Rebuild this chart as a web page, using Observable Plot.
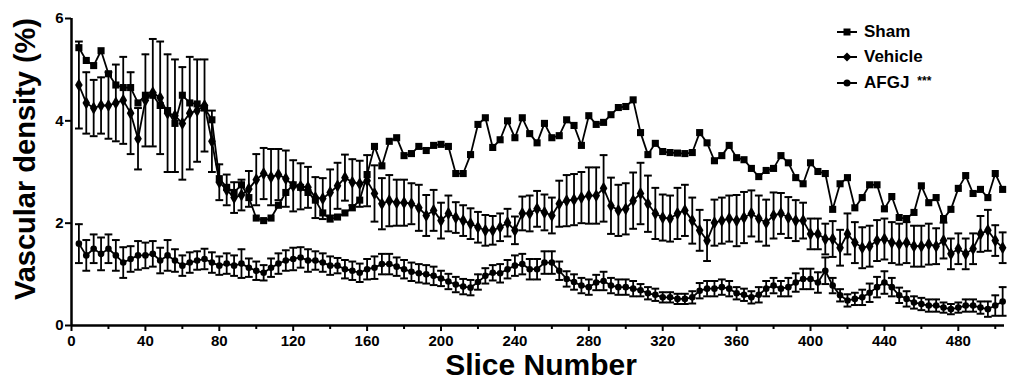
<!DOCTYPE html>
<html>
<head>
<meta charset="utf-8">
<script src="https://cdn.jsdelivr.net/npm/d3@7"></script>
<script src="https://cdn.jsdelivr.net/npm/@observablehq/plot@0.6"></script>
<style>
  body { margin: 0; background: #fff; }
  #wrap { position: relative; width: 1010px; height: 386px; font-family: "Liberation Sans", Arial, sans-serif; }
  #legend { position: absolute; left: 837px; top: 19px; font-weight: bold; font-size: 17px; color: #000; }
  .item { display: flex; align-items: center; height: 25.5px; white-space: nowrap; }
  .item svg { margin-right: 7px; }
  .stars { font-size: 12px; margin-left: 8px; position: relative; top: -2px; }
</style>
</head>
<body>
<div id="wrap"><div id="legend"></div></div>
<script>
// ---- data (slices 4..504, every 4th slice) ----
const sliceStart = 4, sliceStep = 4;
const seriesNames = ["Sham", "Vehicle", "AFGJ"];
const seriesNotes = ["", "", "***"];
const shamValues = [
  5.43, 5.18, 5.08, 5.37, 4.92, 4.70, 4.65, 4.65, 4.35, 4.50,
  4.50, 4.30, 4.20, 3.95, 4.50, 4.35, 4.33, 4.25, 4.02, 2.87,
  2.70, 2.60, 2.75, 2.50, 2.10, 2.05, 2.10, 2.35, 2.60, 2.75,
  2.70, 2.60, 2.45, 2.20, 2.08, 2.12, 2.20, 2.30, 2.45, 2.95,
  3.50, 3.12, 3.60, 3.67, 3.32, 3.36, 3.50, 3.42, 3.52, 3.54,
  3.50, 2.97, 2.97, 3.34, 3.93, 4.06, 3.48, 3.63, 4.00, 3.67,
  4.06, 3.75, 3.57, 3.95, 3.67, 3.71, 4.02, 3.91, 3.52, 4.10,
  3.93, 3.97, 4.12, 4.26, 4.28, 4.41, 3.77, 3.34, 3.56, 3.40,
  3.38, 3.37, 3.36, 3.38, 3.77, 3.57, 3.22, 3.32, 3.52, 3.28,
  3.24, 3.07, 2.91, 3.03, 3.07, 3.32, 3.18, 2.89, 2.77, 3.18,
  3.01, 2.97, 2.27, 2.77, 2.89, 2.30, 2.50, 2.75, 2.75, 2.28,
  2.52, 2.11, 2.09, 2.21, 2.73, 2.40, 2.50, 2.09, 2.27, 2.68,
  2.93, 2.58, 2.66, 2.50, 2.97, 2.66
];
const vehicleValues = [
  4.70, 4.35, 4.25, 4.30, 4.30, 4.35, 4.40, 4.15, 3.65, 4.40,
  4.55, 4.45, 4.15, 4.10, 3.95, 4.15, 4.20, 4.30, 3.60, 2.80,
  2.65, 2.50, 2.55, 2.67, 2.85, 2.97, 2.90, 2.95, 2.87, 2.73,
  2.72, 2.70, 2.50, 2.48, 2.60, 2.73, 2.89, 2.80, 2.77, 2.83,
  2.58, 2.38, 2.44, 2.40, 2.40, 2.38, 2.30, 2.15, 2.25, 2.05,
  2.19, 2.11, 2.05, 1.99, 1.92, 1.86, 1.86, 1.92, 2.01, 1.86,
  2.19, 2.19, 2.28, 2.21, 2.15, 2.38, 2.44, 2.46, 2.50, 2.54,
  2.54, 2.68, 2.34, 2.25, 2.28, 2.44, 2.58, 2.38, 2.19, 2.11,
  2.09, 2.19, 2.25, 2.05, 1.86, 1.66, 2.01, 2.05, 2.09, 2.05,
  2.11, 2.19, 2.09, 2.01, 2.15, 2.19, 2.11, 2.05, 2.05, 1.79,
  1.79, 1.69, 1.69, 1.52, 1.79, 1.62, 1.52, 1.55, 1.66, 1.69,
  1.62, 1.59, 1.62, 1.55, 1.55, 1.59, 1.55, 1.66, 1.40, 1.50,
  1.40, 1.50, 1.79, 1.86, 1.66, 1.52
];
const vehicleErrors = [
  0.85, 0.60, 0.55, 0.55, 0.65, 0.75, 0.85, 0.80, 0.60, 0.90,
  1.05, 1.10, 1.15, 1.10, 1.10, 1.10, 1.00, 0.90, 0.60, 0.35,
  0.30, 0.30, 0.30, 0.35, 0.50, 0.50, 0.55, 0.50, 0.55, 0.50,
  0.45, 0.40, 0.40, 0.40, 0.45, 0.45, 0.45, 0.45, 0.45, 0.50,
  0.55, 0.50, 0.50, 0.45, 0.45, 0.40, 0.45, 0.40, 0.40, 0.35,
  0.35, 0.30, 0.30, 0.30, 0.30, 0.30, 0.28, 0.27, 0.27, 0.27,
  0.33, 0.35, 0.35, 0.35, 0.35, 0.45, 0.50, 0.50, 0.50, 0.55,
  0.55, 0.65, 0.55, 0.50, 0.50, 0.55, 0.60, 0.55, 0.50, 0.45,
  0.45, 0.50, 0.50, 0.45, 0.40, 0.40, 0.45, 0.45, 0.45, 0.50,
  0.50, 0.45, 0.45, 0.45, 0.45, 0.40, 0.40, 0.40, 0.35, 0.30,
  0.30, 0.30, 0.35, 0.35, 0.40, 0.40, 0.40, 0.40, 0.40, 0.40,
  0.40, 0.40, 0.40, 0.40, 0.40, 0.40, 0.35, 0.35, 0.30, 0.30,
  0.30, 0.30, 0.35, 0.40, 0.30, 0.30
];
const afgjValues = [
  1.60, 1.37, 1.50, 1.40, 1.50, 1.37, 1.23, 1.30, 1.37, 1.37,
  1.40, 1.27, 1.37, 1.27, 1.17, 1.23, 1.27, 1.30, 1.23, 1.17,
  1.21, 1.17, 1.21, 1.13, 1.07, 1.03, 1.13, 1.21, 1.27, 1.30,
  1.33, 1.27, 1.27, 1.23, 1.17, 1.17, 1.10, 1.07, 1.03, 1.10,
  1.13, 1.20, 1.20, 1.15, 1.10, 1.05, 1.02, 1.00, 0.97, 0.92,
  0.86, 0.80, 0.76, 0.74, 0.85, 0.97, 1.03, 1.02, 1.10, 1.17,
  1.20, 1.10, 1.10, 1.23, 1.23, 1.07, 0.91, 0.85, 0.78, 0.75,
  0.84, 0.87, 0.78, 0.75, 0.75, 0.72, 0.69, 0.63, 0.60, 0.55,
  0.55, 0.52, 0.52, 0.55, 0.68, 0.72, 0.72, 0.75, 0.72, 0.63,
  0.60, 0.55, 0.60, 0.72, 0.78, 0.72, 0.75, 0.84, 0.91, 0.91,
  0.84, 1.07, 0.78, 0.59, 0.49, 0.52, 0.55, 0.64, 0.75, 0.84,
  0.75, 0.59, 0.52, 0.45, 0.42, 0.39, 0.39, 0.35, 0.32, 0.35,
  0.39, 0.39, 0.35, 0.32, 0.39, 0.47
];
const afgjErrors = [
  0.38, 0.30, 0.28, 0.32, 0.28, 0.30, 0.30, 0.25, 0.28, 0.25,
  0.25, 0.25, 0.30, 0.22, 0.20, 0.20, 0.18, 0.20, 0.20, 0.18,
  0.20, 0.20, 0.28, 0.18, 0.18, 0.15, 0.18, 0.20, 0.20, 0.22,
  0.20, 0.22, 0.18, 0.18, 0.18, 0.15, 0.18, 0.18, 0.18, 0.20,
  0.22, 0.20, 0.20, 0.18, 0.18, 0.18, 0.18, 0.18, 0.18, 0.15,
  0.15, 0.15, 0.15, 0.15, 0.15, 0.15, 0.15, 0.18, 0.18, 0.20,
  0.20, 0.20, 0.20, 0.22, 0.22, 0.18, 0.15, 0.15, 0.15, 0.15,
  0.15, 0.18, 0.15, 0.15, 0.15, 0.15, 0.12, 0.12, 0.12, 0.10,
  0.10, 0.10, 0.10, 0.12, 0.15, 0.15, 0.15, 0.15, 0.15, 0.12,
  0.12, 0.12, 0.15, 0.15, 0.15, 0.15, 0.18, 0.18, 0.20, 0.20,
  0.20, 0.26, 0.15, 0.12, 0.12, 0.12, 0.15, 0.18, 0.20, 0.22,
  0.18, 0.15, 0.15, 0.12, 0.12, 0.12, 0.12, 0.10, 0.10, 0.10,
  0.12, 0.12, 0.12, 0.15, 0.20, 0.28
];
const xTicks = [0, 40, 80, 120, 160, 200, 240, 280, 320, 360, 400, 440, 480];
const xMinorTicks = [20, 60, 100, 140, 180, 220, 260, 300, 340, 380, 420, 460, 500];
const yTicks = [0, 2, 4, 6];
const xTitle = "Slice Number";
const yTitle = "Vascular density (%)";

// ---- build tables ----
const toRows = (vals, errs) => vals.map((v, i) => ({
  slice: sliceStart + i * sliceStep, value: v, err: errs ? errs[i] : 0
}));
const sham = toRows(shamValues);
const vehicle = toRows(vehicleValues, vehicleErrors);
const afgj = toRows(afgjValues, afgjErrors);

// horizontal cap symbol for error bars
const capSymbol = { draw(ctx, size) { const w = Math.sqrt(size); ctx.moveTo(-w / 2, 0); ctx.lineTo(w / 2, 0); } };

function errorMarks(rows) {
  return [
    Plot.ruleX(rows, { x: "slice", y1: d => d.value - d.err, y2: d => d.value + d.err, stroke: "black", strokeWidth: 1.8 }),
    Plot.dot(rows, { x: "slice", y: d => d.value + d.err, symbol: capSymbol, r: 4.4, stroke: "black", strokeWidth: 2, fill: "none" }),
    Plot.dot(rows, { x: "slice", y: d => d.value - d.err, symbol: capSymbol, r: 4.4, stroke: "black", strokeWidth: 2, fill: "none" })
  ];
}

const chart = Plot.plot({
  width: 1010,
  height: 386,
  marginTop: 18,
  marginRight: 6,
  marginBottom: 61,
  marginLeft: 71,
  style: { fontFamily: "'Liberation Sans', Arial, sans-serif", fontWeight: "bold", color: "black", background: "white" },
  x: { domain: [0, 505] },
  y: { domain: [0, 6] },
  marks: [
    Plot.axisX(xMinorTicks, { tickSize: 4, tickFormat: () => "", strokeWidth: 2, label: null }),
    Plot.axisX(xTicks, { tickSize: 6, tickPadding: 4, fontSize: 15, strokeWidth: 2, label: null, tickFormat: d => String(d) }),
    Plot.axisY(yTicks, { tickSize: 6, tickPadding: 2, fontSize: 15, strokeWidth: 2, label: null, tickFormat: d => String(d) }),
    // sham
    Plot.line(sham, { x: "slice", y: "value", stroke: "black", strokeWidth: 1.8 }),
    Plot.dot(sham, { x: "slice", y: "value", symbol: "square", r: 4, fill: "black" }),
    // vehicle
    ...errorMarks(vehicle),
    Plot.line(vehicle, { x: "slice", y: "value", stroke: "black", strokeWidth: 1.8 }),
    Plot.dot(vehicle, { x: "slice", y: "value", symbol: "diamond", r: 4, fill: "black" }),
    // AFGJ
    ...errorMarks(afgj),
    Plot.line(afgj, { x: "slice", y: "value", stroke: "black", strokeWidth: 1.8 }),
    Plot.dot(afgj, { x: "slice", y: "value", symbol: "circle", r: 3.3, fill: "black" }),
    // axis lines
    Plot.ruleY([0], { stroke: "black", strokeWidth: 2.5 }),
    Plot.ruleX([0], { stroke: "black", strokeWidth: 2.5 }),
    // titles
    Plot.text([xTitle], { text: d => d, frameAnchor: "bottom", dy: 40, dx: 3, fontSize: 30, textAnchor: "middle", lineAnchor: "middle" }),
    Plot.text([yTitle], { text: d => d, frameAnchor: "left", rotate: -90, dx: -46, dy: -13, fontSize: 29, textAnchor: "middle", lineAnchor: "middle" })
  ]
});
const wrap = document.getElementById("wrap");
wrap.insertBefore(chart, wrap.firstChild);

// ---- legend ----
const glyphs = [
  '<rect x="6.5" y="2.5" width="7" height="7" fill="black"/>',
  '<polygon points="10,1.5 14.5,6 10,10.5 5.5,6" fill="black"/>',
  '<circle cx="10" cy="6" r="3.5" fill="black"/>'
];
const legend = document.getElementById("legend");
seriesNames.forEach((name, i) => {
  const item = document.createElement("div");
  item.className = "item";
  item.innerHTML = `<svg width="20" height="12"><line x1="0" y1="6" x2="20" y2="6" stroke="black" stroke-width="2"/>${glyphs[i]}</svg>` +
    `<span>${name}</span>` + (seriesNotes[i] ? `<span class="stars">${seriesNotes[i]}</span>` : "");
  legend.appendChild(item);
});
</script>
</body>
</html>
